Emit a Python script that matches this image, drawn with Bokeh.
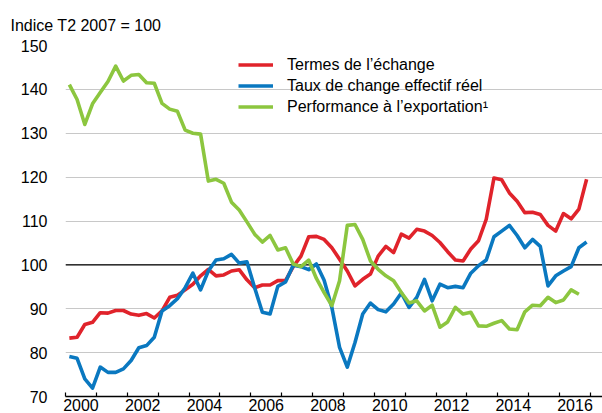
from bokeh.plotting import figure
from bokeh.models import Range1d, FixedTicker, Span
from bokeh.embed import file_html
from bokeh.resources import INLINE

# Quarterly data, 2000 T1 onwards (index T2 2007 = 100)
termes = [83.3, 83.5, 86.4, 86.9, 89.1, 89.0, 89.6, 89.6, 88.8, 88.5, 88.9, 87.9,
          89.5, 92.6, 93.1, 94.3, 95.6, 97.5, 99.0, 97.5, 97.7, 98.6, 98.9, 96.6,
          94.8, 95.4, 95.4, 96.4, 96.4, 99.6, 102.0, 106.4, 106.5, 105.8, 103.9, 101.3,
          98.6, 95.2, 96.7, 97.9, 102.0, 104.2, 102.8, 107.0, 106.1, 108.1, 107.7, 106.7,
          105.1, 103.0, 101.1, 100.9, 103.6, 105.5, 110.4, 119.8, 119.4, 116.4, 114.5, 111.9,
          112.0, 111.5, 109.0, 107.7, 111.7, 110.5, 112.7, 119.5]
taux = [79.1, 78.7, 74.0, 71.9, 76.7, 75.5, 75.5, 76.3, 78.2, 81.1, 81.6, 83.5,
        89.5, 90.7, 92.3, 94.8, 98.1, 94.3, 98.6, 101.1, 101.4, 102.4, 100.4, 100.7,
        94.8, 89.2, 88.8, 95.1, 96.1, 99.9, 99.6, 98.9, 100.2, 96.5, 90.3, 81.2,
        76.7, 82.3, 88.8, 91.3, 89.8, 89.3, 91.1, 93.6, 90.3, 92.6, 96.7, 91.8,
        95.6, 94.8, 95.1, 94.8, 98.1, 99.8, 101.1, 106.4, 107.7, 109.0, 106.7, 103.9,
        105.8, 104.2, 95.2, 97.5, 98.6, 99.6, 103.9, 105.2]
perf = [141.1, 137.7, 132.0, 136.7, 139.3, 141.8, 145.3, 141.9, 143.2, 143.4, 141.5, 141.4,
        136.8, 135.5, 135.0, 130.7, 130.0, 129.8, 119.1, 119.5, 118.6, 114.3, 112.5, 109.8,
        107.0, 105.2, 106.7, 103.4, 103.9, 100.2, 99.6, 101.1, 96.9, 93.7, 90.7, 96.4,
        109.0, 109.2, 105.8, 100.9, 99.0, 97.5, 96.4, 93.7, 91.3, 91.8, 89.5, 90.8,
        85.8, 87.0, 90.3, 88.8, 89.2, 86.1, 86.0, 86.7, 87.3, 85.4, 85.2, 89.3,
        90.8, 90.7, 92.6, 91.4, 92.0, 94.3, 93.3]

series_names = ["Termes de l’échange", "Taux de change effectif réel",
                "Performance à l’exportation¹"]
series_colors = ["#e0232b", "#0a78c0", "#8cc63f"]

year_ticks = list(range(2000, 2018))
year_labels = ["2000", "2002", "2004", "2006", "2008", "2010", "2012", "2014", "2016"]
y_ticks = [70, 80, 90, 100, 110, 120, 130, 140, 150]
y_title = "Indice T2 2007 = 100"
FONT = "Liberation Sans"


def quarter_dates(n):
    # mid-quarter position of each observation, starting 2000 T1
    return [2000 + (k + 0.5) / 4 for k in range(n)]


p = figure(width=602, height=413, output_backend="svg", toolbar_location=None,
           x_range=Range1d(2000, 2017.39), y_range=Range1d(70, 150),
           min_border_left=65, min_border_right=0, min_border_top=45,
           min_border_bottom=0)
p.outline_line_color = None
p.background_fill_color = "white"
p.border_fill_color = "white"

# title used as the unit caption, top-left
p.title.text = y_title
p.title.align = "left"
p.title.offset = -55
p.title.standoff = 24
p.title.text_font = FONT
p.title.text_font_size = "16px"
p.title.text_font_style = "normal"
p.title.text_color = "black"

# grid
p.xgrid.visible = False
p.ygrid.ticker = FixedTicker(ticks=y_ticks)
p.ygrid.grid_line_color = "#c8c8c8"
p.ygrid.grid_line_width = 1

# y axis
p.yaxis.ticker = FixedTicker(ticks=y_ticks)
p.yaxis.axis_line_color = None
p.yaxis.major_tick_line_color = None
p.yaxis.minor_tick_line_color = None
p.yaxis.major_tick_in = 0
p.yaxis.major_tick_out = 0
p.yaxis.major_label_standoff = 18
p.yaxis.major_label_text_font = FONT
p.yaxis.major_label_text_font_size = "16px"
p.yaxis.major_label_text_color = "black"

# x axis: labels at mid-year, small ticks at year boundaries
mid_years = [int(t) + 0.5 for t in year_labels]
p.xaxis.ticker = FixedTicker(ticks=mid_years, minor_ticks=year_ticks)
p.xaxis.major_label_overrides = {m: t for m, t in zip(mid_years, year_labels)}
p.xaxis.axis_line_color = "black"
p.xaxis.axis_line_width = 1.5
p.xaxis.major_tick_line_color = None
p.xaxis.major_tick_in = 0
p.xaxis.major_tick_out = 0
p.xaxis.minor_tick_line_color = "black"
p.xaxis.minor_tick_line_width = 1.2
p.xaxis.minor_tick_in = 4
p.xaxis.minor_tick_out = 0
p.xaxis.major_label_standoff = 2
p.xaxis.major_label_text_font = FONT
p.xaxis.major_label_text_font_size = "16px"
p.xaxis.major_label_text_color = "black"

ref = Span(location=100, dimension="width", line_color="black", line_width=1.3)
ref.level = "underlay"
p.add_layout(ref)

for vals, name, col in zip([termes, taux, perf], series_names, series_colors):
    p.line(quarter_dates(len(vals)), vals, line_color=col, line_width=3.6,
           line_join="round", legend_label=name)

lg = p.legend[0]
lg.location = (173, 279)
lg.border_line_color = None
lg.background_fill_alpha = 0
lg.padding = 0
lg.margin = 0
lg.spacing = 0
lg.glyph_width = 35
lg.glyph_height = 21
lg.label_height = 21
lg.label_standoff = 14
lg.label_text_font = FONT
lg.label_text_font_size = "16px"
lg.label_text_color = "black"

open("out.html", "w").write(file_html(p, INLINE))
